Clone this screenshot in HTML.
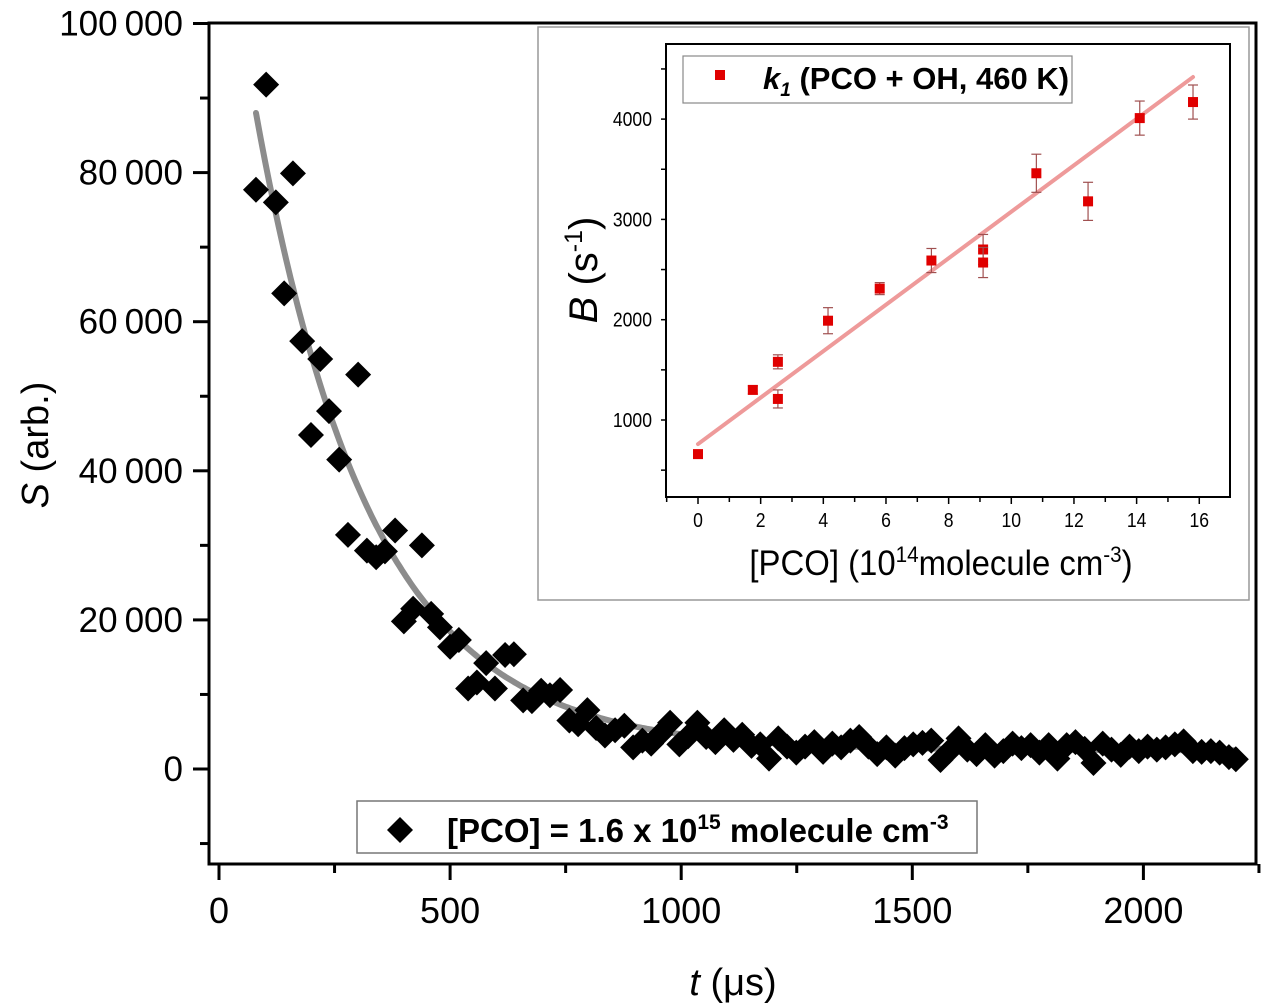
<!DOCTYPE html>
<html><head><meta charset="utf-8"><style>
html,body{margin:0;padding:0;background:#fff;}
svg{display:block;font-family:"Liberation Sans",Arial,sans-serif;}
</style></head><body>
<svg id="chart" width="1264" height="1008" viewBox="0 0 1264 1008" xmlns="http://www.w3.org/2000/svg">
<g id="main"></g>
<g id="inset"></g>
</svg>
<script>
// ---- main chart data ----
const mainT = [80,102,123,141,160,180,199,219,238,260,279,301,320,340,359,381,400,420,439,459,478,500,519,539,558,578,597,619,638,658,677,697,716,738,758,777,797,816,835,857,877,896,916,935,955,976,996,1015,1035,1054,1074,1093,1113,1132,1152,1171,1190,1210,1229,1249,1268,1288,1307,1327,1346,1366,1385,1405,1424,1444,1463,1483,1502,1522,1541,1561,1580,1600,1619,1639,1658,1678,1697,1717,1736,1756,1775,1795,1814,1834,1853,1873,1892,1912,1931,1951,1970,1990,2009,2029,2048,2068,2087,2107,2126,2146,2165,2185,2200];
const mainS = [77700,91800,76000,63800,79900,57400,44800,55000,48000,41500,31400,52900,29300,28400,29200,32000,19800,21500,30000,20800,19000,16400,17300,10800,11600,14200,10800,15300,15400,9200,9100,10500,9900,10600,6500,6000,7900,5500,4500,5200,5800,2900,3800,3400,4700,6200,3300,4400,6200,4300,3600,5200,3900,4600,3100,3300,1400,4100,3000,2200,3000,3600,2300,3400,2900,3800,4300,3000,2000,2900,1800,2800,3300,3500,3800,1200,2400,4100,2600,2000,3200,1800,2400,3400,2800,3200,2200,3200,1400,3200,3600,2700,800,3400,2600,1900,3000,2400,3000,2600,2900,3300,3700,2400,2300,2400,2200,1600,1300];
const mainTicksX = [0,500,1000,1500,2000];
const mainTicksY = [0,20000,40000,60000,80000,100000];
const mainTickLabelsY = ["0","20\u2009000","40\u2009000","60\u2009000","80\u2009000","100\u2009000"];
const fitParams = [2500, 85500, 250]; // offset, amplitude, tau
// ---- inset data ----
const insetX = [0,1.75,2.55,2.55,4.15,5.8,7.45,9.1,9.1,10.8,12.45,14.1,15.8];
const insetB = [660,1300,1580,1210,1990,2310,2590,2700,2570,3460,3180,4010,4170];
const insetErr = [20,40,70,90,130,60,120,150,150,190,190,170,170];
const insetFit = [760, 231.6]; // intercept, slope
const insetTicksX = [0,2,4,6,8,10,12,14,16];
const insetTicksY = [1000,2000,3000,4000];

const NS="http://www.w3.org/2000/svg";
function mk(parent,tag,attrs,text){const e=document.createElementNS(NS,tag);for(const k in attrs)e.setAttribute(k,attrs[k]);if(text!==undefined)e.textContent=text;parent.appendChild(e);return e;}

const mx = t => 219 + t*0.4622;
const my = s => 769 - s*0.007455;
const main = document.getElementById('main');
let d="";
for(let t=80;t<=2200;t+=5){const s=fitParams[0]+fitParams[1]*Math.exp(-(t-80)/fitParams[2]);d+=(d?"L":"M")+mx(t).toFixed(1)+","+my(s).toFixed(1);}
const fit=mk(main,'path',{d:d,fill:'none',stroke:'#8c8c8c','stroke-width':6,'stroke-linecap':'round'});


for(let i=0;i<mainT.length;i++){
  const x=mx(mainT[i]),y=my(mainS[i]),r=13;
  const p=mk(main,'polygon',{points:`${x},${y-r} ${x+r},${y} ${x},${y+r} ${x-r},${y}`,fill:'#000'});
  
  
}
const frame=mk(main,'rect',{x:209,y:23,width:1047,height:841,fill:'none',stroke:'#000','stroke-width':3});


for(let v=-10000;v<=100000;v+=10000){
  const y=my(v);const major=v%20000===0;
  mk(main,'line',{x1:major?193:200,x2:209,y1:y,y2:y,stroke:'#000','stroke-width':3});
}
mainTicksY.forEach((v,i)=>{
  const t=mk(main,'text',{x:183,y:my(v)+12,'font-size':35,'text-anchor':'end'},mainTickLabelsY[i]);
  
  
});
for(let v=0;v<=2250;v+=250){
  const x=mx(v);const major=v%500===0;
  mk(main,'line',{x1:x,x2:x,y1:864,y2:major?880:873,stroke:'#000','stroke-width':3});
}
mainTicksX.forEach(v=>{
  const t=mk(main,'text',{x:mx(v),y:923,'font-size':36,'text-anchor':'middle'},String(v));
  
  
});
</script>
<script>
const svg=document.getElementById('chart');
const xt=mk(svg,'text',{x:733,y:995,'font-size':38,'text-anchor':'middle'});


mk(xt,'tspan',{'font-style':'italic'},'t');mk(xt,'tspan',{},' (\u03bcs)');
const yt=mk(svg,'text',{x:0,y:0,'font-size':38,'text-anchor':'middle',transform:'translate(48,445) rotate(-90)'});


mk(yt,'tspan',{'font-style':'italic'},'S');mk(yt,'tspan',{},' (arb.)');
const lg=mk(svg,'g',{});


mk(lg,'rect',{x:357,y:801,width:620,height:52,fill:'#fff',stroke:'#777','stroke-width':1.5});
mk(lg,'polygon',{points:'400,817 413,830 400,843 387,830',fill:'#000'});
const lt=mk(lg,'text',{x:447,y:842,'font-size':33,'font-weight':'bold'});
mk(lt,'tspan',{},'[PCO] = 1.6 x 10');mk(lt,'tspan',{'font-size':21,dy:-13},'15');mk(lt,'tspan',{dy:13},' molecule cm');mk(lt,'tspan',{'font-size':21,dy:-13},'-3');

const ins=document.getElementById('inset');
const ib=mk(ins,'rect',{x:538,y:27,width:711,height:573,fill:'#fff',stroke:'#999','stroke-width':1.5});


const ix=v=>698+v*31.33;
const iy=v=>520.3-v*0.1003;
mk(ins,'rect',{x:666,y:44,width:564,height:453,fill:'none',stroke:'#000','stroke-width':2});
for(let v=500;v<=4500;v+=500){const y=iy(v);mk(ins,'line',{x1:661,x2:666,y1:y,y2:y,stroke:'#000','stroke-width':1.5});}
insetTicksY.forEach(v=>{const t=mk(ins,'text',{x:652/0.88,y:iy(v)+7,'font-size':20,'text-anchor':'end',transform:'scale(0.88,1)'},String(v));});
for(let v=-1;v<=16;v++){const x=ix(v);mk(ins,'line',{x1:x,x2:x,y1:497,y2:v%2===0?504:502,stroke:'#000','stroke-width':1.5});}
insetTicksX.forEach(v=>{const t=mk(ins,'text',{x:ix(v)/0.88,y:527,'font-size':20,'text-anchor':'middle',transform:'scale(0.88,1)'},String(v));});
const fl=mk(ins,'line',{x1:ix(0),y1:iy(insetFit[0]),x2:ix(15.8),y2:iy(insetFit[0]+insetFit[1]*15.8),stroke:'#ee9a9a','stroke-width':4,'stroke-linecap':'round'});


for(let i=0;i<insetX.length;i++){
  const x=ix(insetX[i]),y=iy(insetB[i]),e=insetErr[i]*0.1003;
  mk(ins,'line',{x1:x,x2:x,y1:y-e,y2:y+e,stroke:'#a05050','stroke-width':1.2});
  mk(ins,'line',{x1:x-5,x2:x+5,y1:y-e,y2:y-e,stroke:'#a05050','stroke-width':1.2});
  mk(ins,'line',{x1:x-5,x2:x+5,y1:y+e,y2:y+e,stroke:'#a05050','stroke-width':1.2});
  const m=mk(ins,'rect',{x:x-5,y:y-5,width:10,height:10,fill:'#e00000'});
  
  
}
const il=mk(ins,'g',{});


mk(il,'rect',{x:683,y:56,width:389,height:47,fill:'#fff',stroke:'#888','stroke-width':1.2});
mk(il,'rect',{x:715,y:70,width:10,height:10,fill:'#e00000'});
const it=mk(il,'text',{x:763,y:89,'font-size':31,'font-weight':'bold'});
mk(it,'tspan',{'font-style':'italic'},'k');mk(it,'tspan',{'font-style':'italic','font-size':19,dy:7},'1');mk(it,'tspan',{dy:-7},' (PCO + OH, 460 K)');
const ixt=mk(ins,'text',{x:941/0.94,y:575,'font-size':35,'text-anchor':'middle',transform:'scale(0.94,1)'});


mk(ixt,'tspan',{},'[PCO] (10');mk(ixt,'tspan',{'font-size':22,dy:-13},'14');mk(ixt,'tspan',{dy:13},'molecule cm');mk(ixt,'tspan',{'font-size':22,dy:-13},'-3');mk(ixt,'tspan',{dy:13},')');
const iyt=mk(ins,'text',{x:0,y:0,'font-size':40,'text-anchor':'middle',transform:'translate(597,270) rotate(-90)'});


mk(iyt,'tspan',{'font-style':'italic'},'B');mk(iyt,'tspan',{},' (s');mk(iyt,'tspan',{'font-size':25,dy:-15},'-1');mk(iyt,'tspan',{dy:15},')');
</script>
</body></html>
